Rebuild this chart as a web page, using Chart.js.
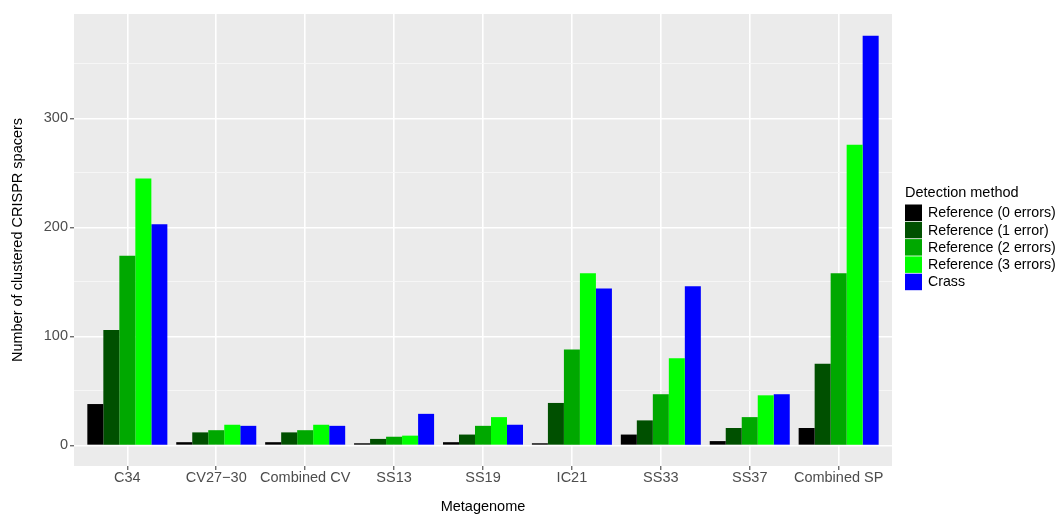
<!DOCTYPE html>
<html>
<head>
<meta charset="utf-8">
<script src="https://cdn.jsdelivr.net/npm/chart.js@4/dist/chart.umd.min.js"></script>
<style>
html,body{margin:0;padding:0;background:#ffffff;}
canvas{display:block;}
</style>
</head>
<body>
<canvas id="c" width="1057" height="516"></canvas>
<script>
// ---- data ----
const categories = ["C34", "CV27\u221230", "Combined CV", "SS13", "SS19", "IC21", "SS33", "SS37", "Combined SP"];
const seriesNames = ["Reference (0 errors)", "Reference (1 error)", "Reference (2 errors)", "Reference (3 errors)", "Crass"];
const ref0  = [38, 3, 3, 2, 3, 2, 10, 4, 16];
const ref1  = [106, 12, 12, 6, 10, 39, 23, 16, 75];
const ref2  = [174, 14, 14, 8, 18, 88, 47, 26, 158];
const ref3  = [245, 19, 19, 9, 26, 158, 80, 46, 276];
const crass = [203, 18, 18, 29, 19, 144, 146, 47, 376];
const majorTicks = [0, 100, 200, 300];
const minorTicks = [50, 150, 250, 350];
const xTitle = "Metagenome";
const yTitle = "Number of clustered CRISPR spacers";
const legendTitle = "Detection method";

// ---- styles ----
const seriesColors = ["#000000", "#005000", "#00A800", "#00FF00", "#0000FF"];
const FONT = "'Liberation Sans', Arial, Helvetica, sans-serif";
const seriesValues = [ref0, ref1, ref2, ref3, crass];

const datasets = seriesValues.map((vals, k) => ({
  label: seriesNames[k],
  data: vals.map((v, i) => ({ x: i, y: v })),
  backgroundColor: seriesColors[k],
  borderWidth: 0,
  categoryPercentage: 0.9,
  barPercentage: 1.0
}));

const allTicks = majorTicks.concat(minorTicks).sort((a, b) => a - b);

const panelPlugin = {
  id: 'panelBg',
  beforeDraw(chart) {
    const { ctx, chartArea: a } = chart;
    ctx.save();
    ctx.fillStyle = '#EBEBEB';
    ctx.fillRect(a.left, a.top, a.right - a.left, a.bottom - a.top);
    ctx.restore();
  }
};

const legendPlugin = {
  id: 'ggLegend',
  afterDraw(chart) {
    const ctx = chart.ctx;
    ctx.save();
    ctx.textBaseline = 'middle';
    ctx.textAlign = 'left';
    ctx.font = `14.5px ${FONT}`;
    ctx.fillStyle = '#000000';
    ctx.fillText(legendTitle, 905, 193);
    ctx.font = `14.2px ${FONT}`;
    chart.data.datasets.forEach((d, k) => {
      const y = 204.5 + 17.3 * k;
      ctx.fillStyle = d.backgroundColor;
      ctx.fillRect(905, y, 17, 16.5);
      ctx.fillStyle = '#000000';
      ctx.fillText(d.label, 928, y + 8.8);
    });
    ctx.restore();
  }
};

new Chart(document.getElementById('c'), {
  type: 'bar',
  data: { datasets },
  plugins: [panelPlugin, legendPlugin],
  options: {
    responsive: false,
    animation: false,
    devicePixelRatio: 1,
    layout: { padding: { top: 14, right: 165, left: 0, bottom: 0 } },
    plugins: { legend: { display: false }, tooltip: { enabled: false } },
    scales: {
      x: {
        type: 'linear',
        min: -0.6,
        max: 8.6,
        bounds: 'data',
        offset: false,
        afterBuildTicks: s => { s.ticks = categories.map((c, i) => ({ value: i })); },
        afterFit: s => { s.height = 50; },
        ticks: {
          callback: v => categories[v],
          color: '#4D4D4D',
          font: { family: FONT, size: 14.5 },
          padding: -1,
          maxRotation: 0,
          autoSkip: false
        },
        grid: { offset: false, color: '#FFFFFF', lineWidth: 1.6, tickColor: '#333333', tickWidth: 1, tickLength: 4, drawTicks: true },
        border: { display: false },
        title: { display: true, text: xTitle, color: '#000000', font: { family: FONT, size: 14.5 }, padding: { top: 0, bottom: 0 } }
      },
      y: {
        type: 'linear',
        min: -18.85,
        max: 395.85,
        afterBuildTicks: s => { s.ticks = allTicks.map(v => ({ value: v })); },
        afterFit: s => { s.width = 74; },
        ticks: {
          callback: v => (majorTicks.includes(v) ? String(v) : ''),
          color: '#4D4D4D',
          font: { family: FONT, size: 14.5 },
          padding: 2,
          autoSkip: false
        },
        grid: {
          color: ctx => majorTicks.includes(ctx.tick.value) ? '#FFFFFF' : '#F7F7F7',
          lineWidth: ctx => majorTicks.includes(ctx.tick.value) ? 1.6 : 0.9,
          tickColor: ctx => majorTicks.includes(ctx.tick.value) ? '#333333' : 'rgba(0,0,0,0)',
          tickWidth: 1,
          tickLength: 4,
          drawTicks: true
        },
        border: { display: false },
        title: { display: true, text: yTitle, color: '#000000', font: { family: FONT, size: 14.5 }, padding: { top: 9, bottom: 0 } }
      }
    }
  }
});
</script>
</body>
</html>
